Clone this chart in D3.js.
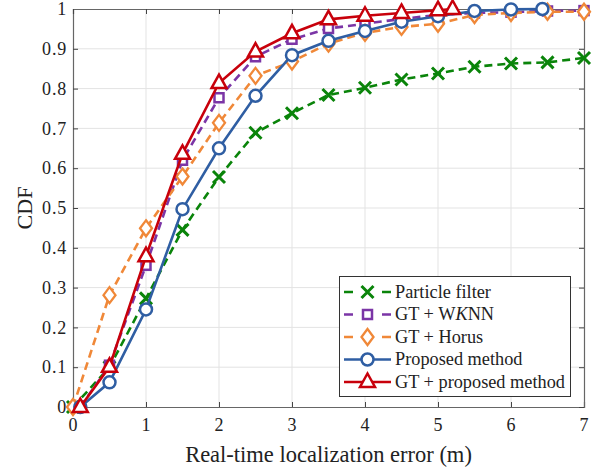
<!DOCTYPE html>
<html><head><meta charset="utf-8">
<script src="https://cdn.jsdelivr.net/npm/d3@7"></script>
<style>body{margin:0;background:#fff;}svg text{font-family:"Liberation Serif","Times New Roman",serif;fill:#222;}</style>
</head><body><svg id="c" width="603" height="469"></svg>
<script>
const xTicks = [0,1,2,3,4,5,6,7];
const yTicks = [0,0.1,0.2,0.3,0.4,0.5,0.6,0.7,0.8,0.9,1];
const yTickLabels = ["0","0.1","0.2","0.3","0.4","0.5","0.6","0.7","0.8","0.9","1"];

const pfX = [0,0.5,1,1.5,2,2.5,3,3.5,4,4.5,5,5.5,6,6.5,7];
const pfY = [0,0.1,0.273,0.445,0.578,0.689,0.738,0.784,0.802,0.823,0.838,0.855,0.863,0.866,0.877];
const wkX = [0.1,0.5,1,1.5,2,2.5,3,3.5,4,4.5,5,5.5,6,6.5,7];
const wkY = [0,0.105,0.356,0.62,0.777,0.88,0.924,0.951,0.963,0.975,0.985,0.99,0.992,0.995,0.996];
const hoX = [0,0.5,1,1.5,2,2.5,3,3.5,4,4.5,5,5.5,6,6.5,7];
const hoY = [0,0.281,0.449,0.579,0.714,0.832,0.868,0.913,0.94,0.955,0.963,0.985,0.99,0.993,0.993];
const prX = [0.1,0.5,1,1.5,2,2.5,3,3.5,4,4.5,5,5.5,6,6.43];
const prY = [0,0.062,0.245,0.497,0.65,0.782,0.884,0.92,0.945,0.968,0.982,0.995,0.999,1.0];
const gpX = [0.1,0.5,1,1.5,2,2.5,3,3.5,4,4.5,5,5.2];
const gpY = [0,0.101,0.379,0.636,0.814,0.893,0.939,0.974,0.983,0.99,0.997,1.0];

const seriesNames = ["Particle filter","GT + WKNN","GT + Horus","Proposed method","GT + proposed method"];
const colors = ["#0a840a","#7b35a6","#f08838","#2f5ea3","#c8000b"];
const markers = ["cross","square","diamond","circle","triangle"];
const dashes = ["8,5","8,5","8,5",null,null];

const series = [
  {x:pfX,y:pfY},{x:wkX,y:wkY},{x:hoX,y:hoY},{x:prX,y:prY},{x:gpX,y:gpY}
].map((s,i)=>({name:seriesNames[i],color:colors[i],marker:markers[i],dash:dashes[i],pts:s.x.map((v,j)=>[v,s.y[j]])}));

const L=73,R=584,T=9,B=407;
const x = d3.scaleLinear().domain([0,7]).range([L,R]);
const y = d3.scaleLinear().domain([0,1]).range([B,T]);
const svg = d3.select("#c");

// grid
svg.append("g").selectAll("line").data(xTicks.slice(1,-1)).join("line")
  .attr("x1",d=>x(d)).attr("x2",d=>x(d)).attr("y1",T).attr("y2",B).attr("stroke","#e3e3e3").attr("stroke-width",1);
svg.append("g").selectAll("line").data(yTicks.slice(1,-1)).join("line")
  .attr("y1",d=>y(d)).attr("y2",d=>y(d)).attr("x1",L).attr("x2",R).attr("stroke","#e3e3e3").attr("stroke-width",1);

// axes
const ax = svg.append("g").attr("transform",`translate(0,${B})`).call(d3.axisBottom(x).tickValues(xTicks).tickSize(-5).tickPadding(11).tickFormat(d3.format("d")));
const ay = svg.append("g").attr("transform",`translate(${L},0)`).call(d3.axisLeft(y).tickValues(yTicks).tickSize(-5).tickPadding(6).tickFormat((d,i)=>yTickLabels[i]));
const axT = svg.append("g").attr("transform",`translate(0,${T})`).call(d3.axisTop(x).tickValues(xTicks).tickSize(-5).tickFormat(""));
const ayR = svg.append("g").attr("transform",`translate(${R},0)`).call(d3.axisRight(y).tickValues(yTicks).tickSize(-5).tickFormat(""));
[ax,ay,axT,ayR].forEach(g=>{
  g.attr("font-family",null);
  g.select(".domain").attr("stroke","#666").attr("stroke-width",1.2);
  g.selectAll(".tick line").attr("stroke","#444");
  g.selectAll("text").style("font-size","18px").style("letter-spacing","0.8px").attr("fill","#222");
});

// lines
const line = d3.line().x(d=>x(d[0])).y(d=>y(d[1]));
function drawMarker(g,type,color){
  if(type==="circle") g.append("circle").attr("r",6).attr("fill","#fff").attr("stroke",color).attr("stroke-width",2.5);
  else if(type==="square") g.append("rect").attr("x",-4.5).attr("y",-4.5).attr("width",9).attr("height",9).attr("fill","#fff").attr("stroke",color).attr("stroke-width",2.5);
  else if(type==="diamond") g.append("path").attr("d","M0,-8L6,0L0,8L-6,0Z").attr("fill","#fff").attr("stroke",color).attr("stroke-width",2.3);
  else if(type==="triangle") g.append("path").attr("d","M0,-8.5L7.5,5L-7.5,5Z").attr("fill","#fff").attr("stroke",color).attr("stroke-width",2.5);
  else if(type==="cross") g.append("path").attr("d","M-6,-6L6,6M-6,6L6,-6").attr("fill","none").attr("stroke",color).attr("stroke-width",3);
}
series.forEach(s=>{
  const g = svg.append("g");
  g.append("path").datum(s.pts).attr("d",line).attr("fill","none").attr("stroke",s.color).attr("stroke-width",2.6)
    .attr("stroke-dasharray",s.dash);
  s.pts.forEach(p=>{
    const m = g.append("g").attr("transform",`translate(${x(p[0])},${y(p[1])})`);
    drawMarker(m,s.marker,s.color);
  });
});

// axis labels
svg.append("text").attr("x",(L+R)/2).attr("y",461.5).attr("text-anchor","middle").style("font-size","22.5px").text("Real-time localization error (m)");
svg.append("text").attr("transform",`translate(31.5,${(T+B)/2}) rotate(-90)`).attr("text-anchor","middle").style("font-size","22px").text("CDF");

// legend
const lg = svg.append("g");
lg.append("rect").attr("x",339.5).attr("y",276.5).attr("width",231).attr("height",120).attr("fill","#fff").attr("stroke","#333").attr("stroke-width",1);
series.forEach((s,i)=>{
  const yy = 292 + i*22.5;
  const g = lg.append("g");
  g.append("line").attr("x1",344).attr("x2",391).attr("y1",yy).attr("y2",yy).attr("stroke",s.color).attr("stroke-width",2.6).attr("stroke-dasharray",s.dash?"9,29,9":null);
  const m = g.append("g").attr("transform",`translate(367.5,${yy})`);
  drawMarker(m,s.marker,s.color);
  const t = g.append("text").attr("x",395).attr("y",yy+5.5).style("font-size","18.3px");
  if(s.name==="GT + WKNN"){
    t.append("tspan").text("GT + W");
    t.append("tspan").style("font-style","italic").text("K");
    t.append("tspan").text("NN");
  } else t.text(s.name);
});
</script></body></html>
